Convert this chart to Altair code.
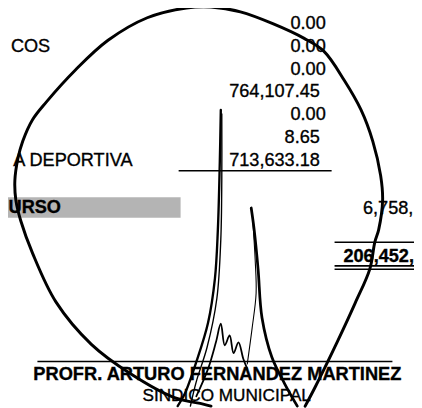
import altair as alt
import pandas as pd

# ---- values read from the scanned page ----
amounts = ["0.00", "0.00", "0.00", "0.00", "764,107.45", "0.00", "8.65", "713,633.18"]
row_labels = ["COS", "A DEPORTIVA"]
row_label_rows = [2, 7]
total_label = "URSO"
side_amounts = ["6,758,", "206,452,"]
signer = "PROFR. ARTURO FERNANDEZ MARTINEZ"
signer_post = "SINDICO MUNICIPAL"

# handwritten signature strokes (traced points)
sig_loop_x = [215, 207, 177, 133, 93, 57, 33, 21, 16, 15, 18, 23, 33, 47, 77, 110, 150, 190, 215, 245, 278, 310, 330, 351, 368, 380, 388, 390, 386, 382, 377, 362, 344, 321, 311]
sig_loop_y = [410, 408, 401, 377, 347, 304, 254, 221, 200, 180, 158, 140, 118, 100, 67, 37, 14, 4, 3, 8, 20, 35, 48, 78, 108, 140, 175, 200, 230, 243, 270, 305, 344, 391, 410]
sig_spike_x = [181, 188, 200, 212, 219, 222, 224, 225]
sig_spike_y = [410, 398, 365, 325, 280, 230, 160, 108]
sig_thin_x = [226, 226, 225, 221, 211, 200, 194]
sig_thin_y = [112, 180, 240, 300, 350, 385, 410]
sig_wiggle_x = [200, 212, 220, 225, 229, 234, 238, 243, 248, 252]
sig_wiggle_y = [400, 372, 345, 326, 348, 338, 356, 345, 362, 372]
sig_spike2_x = [256, 259, 263, 267, 277, 290, 303]
sig_spike2_y = [208, 230, 270, 320, 360, 387, 410]
sig_thin2_x = [257, 260, 261, 257, 252]
sig_thin2_y = [212, 260, 295, 330, 367]

# ---- layout (window pixel coordinates) ----
ROW0, ROWH = -4.0, 23.3
FS = 18.5
FONT = "Liberation Sans"
INK = "black"
THICK = 0.35  # scanned ink spread

xs = alt.Scale(domain=[8, 422], nice=False, zero=False)
ys = alt.Scale(domain=[8, 408], reverse=True, nice=False, zero=False)

def X(f="x"):
    return alt.X(f"{f}:Q", scale=xs, axis=None)

def Y(f="y"):
    return alt.Y(f"{f}:Q", scale=ys, axis=None)

def txt(df, align, size=FS, weight="normal"):
    return alt.Chart(df).mark_text(
        align=align, baseline="middle", font=FONT, fontSize=size, fontWeight=weight,
        color=INK, stroke=INK, strokeWidth=THICK,
    ).encode(x=X(), y=Y(), text="text:N")

amt_df = pd.DataFrame({
    "text": amounts,
    "x": [332 if a == "0.00" else 326 for a in amounts],
    "y": [ROW0 + i * ROWH for i in range(len(amounts))],
})
lab_df = pd.DataFrame({
    "text": row_labels,
    "x": [51, 135],
    "y": [ROW0 + r * ROWH for r in row_label_rows],
})

band_df = pd.DataFrame({"x": [0], "x2": [184], "y": [197], "y2": [218]})
band = alt.Chart(band_df).mark_rect(color="#b4b4b4").encode(
    x=X(), x2="x2:Q", y=Y(), y2="y2:Q")

amt = txt(amt_df, "right")
lab = txt(lab_df, "right")
tot = txt(pd.DataFrame({"text": [total_label], "x": [62], "y": [207]}), "right", weight="bold")
side1 = txt(pd.DataFrame({"text": [side_amounts[0]], "x": [370], "y": [208]}), "left")
side2 = txt(pd.DataFrame({"text": [side_amounts[1]], "x": [350], "y": [257]}), "left", weight="bold")

rules_df = pd.DataFrame({
    "x": [182, 341, 341, 341, 38],
    "x2": [338, 430, 430, 430, 400],
    "y": [170, 243, 267, 270.5, 364.5],
})
rules = alt.Chart(rules_df).mark_rule(color=INK, strokeWidth=1.6).encode(
    x=X(), x2="x2:Q", y=Y())

name = txt(pd.DataFrame({"text": [signer], "x": [221.5], "y": [377]}), "center",
           size=18.6, weight="bold")
post = txt(pd.DataFrame({"text": [signer_post], "x": [231], "y": [400]}), "center", size=17.5)

def stroke(xv, yv, width, interp="catmull-rom"):
    df = pd.DataFrame({"x": xv, "y": yv, "i": list(range(len(xv)))})
    return alt.Chart(df).mark_line(color=INK, strokeWidth=width, interpolate=interp,
                                   strokeCap="round", strokeJoin="round").encode(
        x=X(), y=Y(), order="i:Q")

sig = [
    stroke(sig_loop_x, sig_loop_y, 3.0),
    stroke(sig_spike_x, sig_spike_y, 2.4),
    stroke(sig_thin_x, sig_thin_y, 1.4),
    stroke(sig_wiggle_x, sig_wiggle_y, 1.8),
    stroke(sig_spike2_x, sig_spike2_y, 2.8),
    stroke(sig_thin2_x, sig_thin2_y, 1.1),
]

chart = alt.layer(band, amt, lab, tot, side1, side2, rules, name, post, *sig).properties(
    width=414, height=400, padding=0, autosize=alt.AutoSizeParams(type="none"),
    background="white",
).configure_view(stroke=None)

chart.save("out.html", embed_options={"renderer": "svg", "actions": False})
